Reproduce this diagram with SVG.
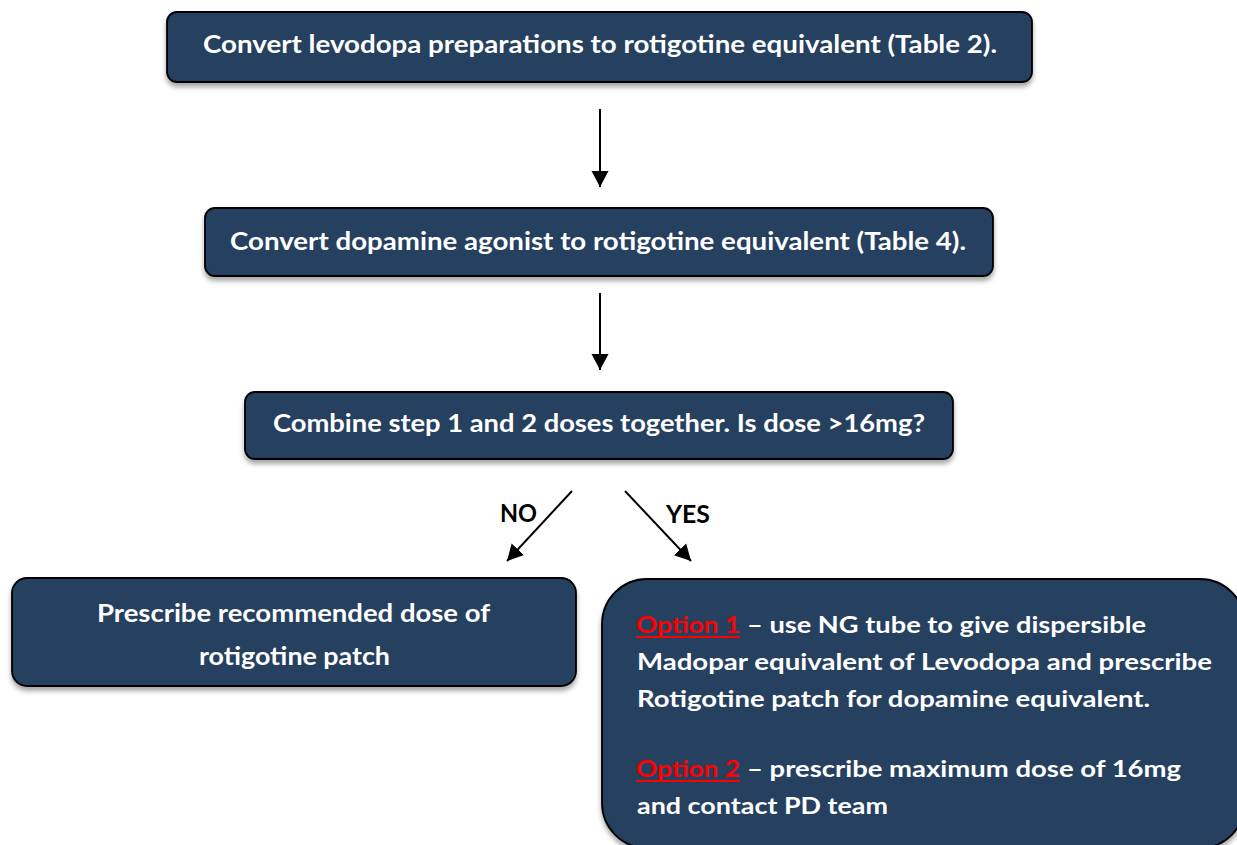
<svg xmlns="http://www.w3.org/2000/svg" width="1237" height="845" viewBox="0 0 1237 845">
  <defs>
    <filter id="shadow" x="-5%" y="-10%" width="110%" height="130%">
      <feDropShadow dx="0" dy="4" stdDeviation="2.5" flood-color="#000" flood-opacity="0.35"/>
    </filter>
    <marker id="arrow" markerUnits="userSpaceOnUse" markerWidth="18" markerHeight="18" viewBox="0 0 18 18" refX="16" refY="9" orient="auto">
      <path d="M0,0.5 L16,9 L0,17.5 Z" fill="#000"/>
    </marker>
  </defs>
  <style>
    .box { fill: #283f5f; stroke: #000; stroke-width: 1.8; filter: url(#shadow); }
    .label { font-family: Lato, "Open Sans", "Liberation Sans", sans-serif; font-weight: bold; fill: #fff; }
    .big { font-size: 24px; }
    .opt { font-size: 22px; }
    .red { fill: #ff0000; }
    .edge { stroke: #000; stroke-width: 2; fill: none; marker-end: url(#arrow); }
    .tag { font-family: Lato, "Open Sans", "Liberation Sans", sans-serif; font-weight: bold; font-size: 24px; fill: #000; }
  </style>
  <rect width="1237" height="845" fill="#fff"/>

  <g id="connectors">
    <line class="edge" x1="600" y1="109" x2="600" y2="187"/>
    <line class="edge" x1="600" y1="293" x2="600" y2="370"/>
    <line class="edge" x1="572" y1="491" x2="507" y2="561"/>
    <line class="edge" x1="625" y1="491" x2="691" y2="561"/>
    <text class="tag" x="500" y="522" textLength="37" lengthAdjust="spacingAndGlyphs">NO</text>
    <text class="tag" x="666" y="523" textLength="44" lengthAdjust="spacingAndGlyphs">YES</text>
  </g>

  <g id="step1">
    <rect class="box" x="167" y="12" width="865" height="70" rx="10"/>
    <text class="label big" x="203" y="53" textLength="794" lengthAdjust="spacingAndGlyphs">Convert levodopa preparations to rotigotine equivalent (Table 2).</text>
  </g>

  <g id="step2">
    <rect class="box" x="205" y="208" width="788" height="68" rx="10"/>
    <text class="label big" x="230" y="250" textLength="736" lengthAdjust="spacingAndGlyphs">Convert dopamine agonist to rotigotine equivalent (Table 4).</text>
  </g>

  <g id="step3">
    <rect class="box" x="245" y="392" width="708" height="67" rx="10"/>
    <text class="label big" x="273" y="432" textLength="652" lengthAdjust="spacingAndGlyphs">Combine step 1 and 2 doses together. Is dose &gt;16mg?</text>
  </g>

  <g id="no-branch">
    <rect class="box" x="12" y="578" width="564" height="108" rx="15"/>
    <text class="label big" x="97" y="622" textLength="393" lengthAdjust="spacingAndGlyphs">Prescribe recommended dose of</text>
    <text class="label big" x="199" y="665" textLength="191" lengthAdjust="spacingAndGlyphs">rotigotine patch</text>
  </g>

  <g id="yes-branch">
    <rect class="box" x="602" y="579" width="643" height="269" rx="45"/>
    <text class="label opt red" x="636" y="633" textLength="104" lengthAdjust="spacingAndGlyphs">Option 1</text>
    <rect x="636" y="636" width="104" height="2" fill="#ff0000"/>
    <text class="label opt" x="747" y="633" textLength="399" lengthAdjust="spacingAndGlyphs">– use NG tube to give dispersible</text>
    <text class="label opt" x="637" y="670" textLength="575" lengthAdjust="spacingAndGlyphs">Madopar equivalent of Levodopa and prescribe</text>
    <text class="label opt" x="637" y="707" textLength="513" lengthAdjust="spacingAndGlyphs">Rotigotine patch for dopamine equivalent.</text>
    <text class="label opt red" x="636" y="777" textLength="104" lengthAdjust="spacingAndGlyphs">Option 2</text>
    <rect x="636" y="780" width="104" height="2" fill="#ff0000"/>
    <text class="label opt" x="747" y="777" textLength="434" lengthAdjust="spacingAndGlyphs">– prescribe maximum dose of 16mg</text>
    <text class="label opt" x="637" y="814" textLength="251" lengthAdjust="spacingAndGlyphs">and contact PD team</text>
  </g>
</svg>
